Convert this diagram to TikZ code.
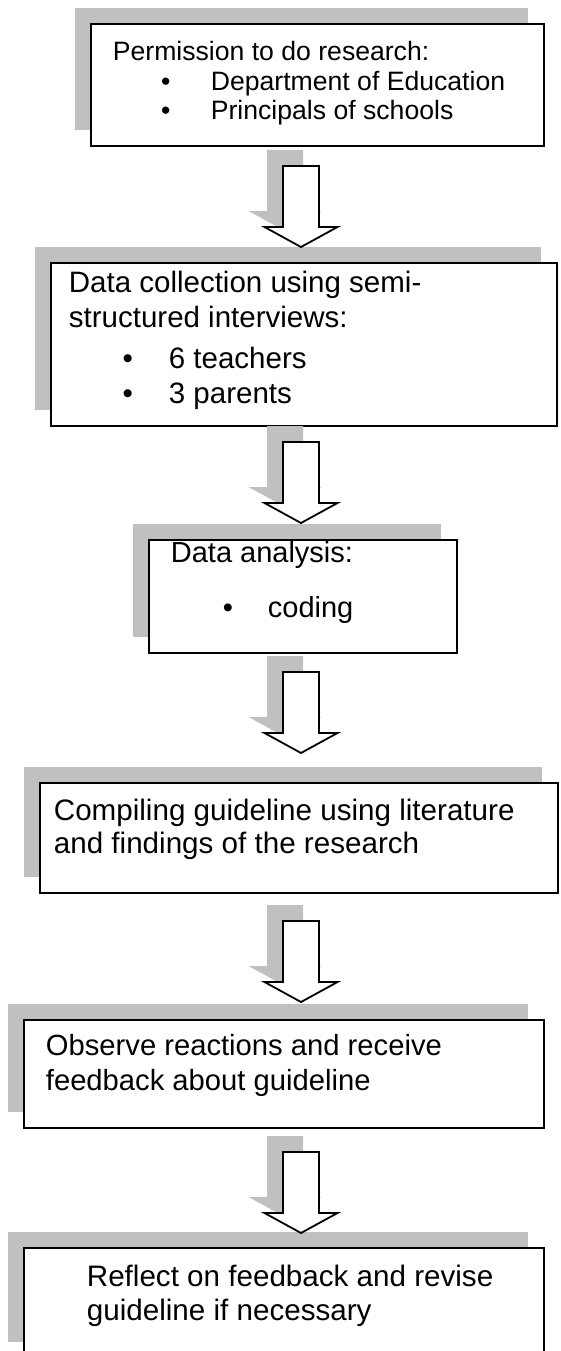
\documentclass[tikz,border=0pt]{standalone}
\usepackage{fontspec}
\setmainfont{Liberation Sans}
\usetikzlibrary{calc,shadows}

\definecolor{shadowgray}{RGB}{192,192,192}

\newcommand{\firstline}[1]{\rule{0pt}{#1}}
\newcommand{\bulletitem}[2]{\hspace*{#1}\makebox[0pt]{\textbullet}\hspace*{#2}}

\begin{document}
\begin{tikzpicture}
	[
		x=1pt, y=-1pt,
		stage/.style={draw, line width=1.8pt, fill=white, anchor=north west, inner sep=0pt,
			general shadow={fill=shadowgray, shadow xshift=-16pt, shadow yshift=16pt}},
		downarrow/.pic={
			\fill[shadowgray, shift={(-16,-16)}] (0,0) -- (36.5,-20) -- (18,-20) -- (18,-81)
				-- (-18,-81) -- (-18,-20) -- (-36.5,-20) -- cycle;
			\draw[line width=1.8pt, fill=white, line join=miter] (0,0) -- (36.5,-20) -- (18,-20) -- (18,-81)
				-- (-18,-81) -- (-18,-20) -- (-36.5,-20) -- cycle;
		}
	]
	\useasboundingbox (0,0) rectangle (560,1351);
	\clip (0,0) rectangle (560,1351);

	\node[stage] (b1) at (90,23)
	{\parbox[t][122pt][t]{453pt}{\fontsize{26.6}{29.5}\selectfont\setlength{\leftskip}{22pt}%
		\firstline{37pt}Permission to do research:\\
		\bulletitem{53pt}{45pt}Department of Education\\
		\bulletitem{53pt}{45pt}Principals of schools}};
	\node[stage] (b2) at (50,262)
	{\parbox[t][163pt][t]{506pt}{\fontsize{29.5}{35}\selectfont\setlength{\leftskip}{18pt}%
		\firstline{30pt}Data collection using semi-\\
		structured interviews:\\[6pt]
		\bulletitem{59pt}{41pt}6 teachers\\
		\bulletitem{59pt}{41pt}3 parents}};
	\node[stage] (b3) at (148,539)
	{\parbox[t][113pt][t]{308pt}{\fontsize{29}{55}\selectfont\setlength{\leftskip}{22pt}%
		\firstline{23pt}Data analysis:\\
		\bulletitem{57pt}{40pt}coding}};
	\node[stage] (b4) at (39,782)
	{\parbox[t][110pt][t]{518pt}{\fontsize{29.6}{33}\selectfont\setlength{\leftskip}{14pt}%
		\firstline{38pt}Compiling guideline using literature\\
		and findings of the research}};
	\node[stage] (b5) at (23,1019)
	{\parbox[t][108pt][t]{520pt}{\fontsize{29.2}{35}\selectfont\setlength{\leftskip}{22pt}%
		\firstline{36pt}Observe reactions and receive\\
		feedback about guideline}};
	\node[stage] (b6) at (23,1247)
	{\parbox[t][110pt][t]{520pt}{\fontsize{29.6}{34}\selectfont\setlength{\leftskip}{63pt}%
		\firstline{39pt}Reflect on feedback and revise\\
		guideline if necessary}};

	\coordinate (ax) at (301,0);
	\foreach \nxt/\gap in {b2/15, b3/16, b4/29, b5/17, b6/14}
		\pic at ($(ax |- \nxt.north)+(0,-\gap)$) {downarrow};
\end{tikzpicture}
\end{document}
